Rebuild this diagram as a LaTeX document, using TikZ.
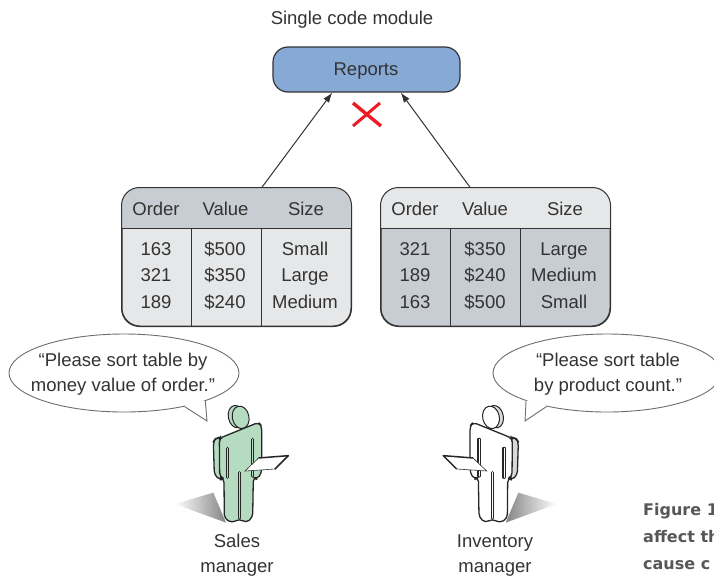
\documentclass[tikz,border=0pt]{standalone}
\usepackage{fontspec}
\setmainfont{Liberation Sans}
\newfontfamily\capfont{DejaVu Sans}
\usetikzlibrary{shapes.geometric,arrows.meta}
\definecolor{txt}{HTML}{333333}
\definecolor{bluebox}{HTML}{87A9D6}
\definecolor{cdark}{HTML}{C8CDD3}
\definecolor{clight}{HTML}{E6E7E8}
\definecolor{cgreen}{HTML}{B5DCC0}
\definecolor{line}{HTML}{333333}
\definecolor{bubline}{HTML}{6E6E6E}
\definecolor{xred}{HTML}{ED1C24}
\tikzset{
  lab/.style={text=txt,font=\fontsize{18.5}{22}\selectfont,inner sep=0pt,align=center},
  cell/.style={lab,anchor=base},
  tablebox/.style={draw=line,line width=1pt,minimum width=229pt,minimum height=138pt,rounded corners=18pt,inner sep=0pt},
  conn/.style={draw=line,line width=1pt,-{Latex[length=10pt,width=7pt]}},
  bubble/.style={ellipse,draw=bubline,line width=.9pt,fill=white,inner sep=0pt},
  capt/.style={text=black!66,font=\capfont\bfseries\fontsize{16}{20}\selectfont,inner sep=0pt,anchor=base west},
  sep/.style={draw=line,line width=1pt},
  outl/.style={draw=black!85,line width=1.3pt,rounded corners=4pt,line join=round}
}
\newcommand{\personfig}[4]{%
  % #1 body colour, #2 side colour, #3,#4 shadow left/right colours
  \shade[left color=#3,right color=#4] (15,342) -- (130,308) -- (168,398) -- cycle;
  \filldraw[outl,fill=#2] (152,140) -- (136,146) -- (130,155) -- (133,255) -- (150,270) -- (162,266) -- (150,150) -- cycle;
  \filldraw[draw=black!85,line width=1pt,fill=#2,rotate around={12:(199,80)}] (199,80) ellipse (24 and 34);
  \filldraw[draw=black!85,line width=1pt,fill=#1,rotate around={12:(212,82)}] (212,82) ellipse (25 and 34);
  \filldraw[outl,fill=#1] (148,145) -- (266,97) -- (275,108) -- (275,248) -- (262,268) -- (250,262)
     -- (248,382) -- (228,399) -- (209,386) -- (186,399) -- (163,385) -- (162,266) -- (149,260) -- cycle;
  \foreach \a/\b/\c/\d in {173/175/173/262, 248/148/248/258, 208/248/208/384}{
    \draw[black!85,line width=3.2pt,line cap=round] (\a,\b) -- (\c,\d);
    \draw[#1,line width=1pt,line cap=round] (\a,\b) -- (\c,\d);
  }
  \fill[white] (225,243) -- (265,205) -- (355,197) -- (315,237) -- cycle;
  \draw[line,line width=.6pt] (265,205) -- (225,243) -- (315,237);
  \draw[black!85,line width=1.5pt,line join=round] (265,204) -- (355,197) -- (315,237);
}
\begin{document}
\begin{tikzpicture}[x=1pt,y=-1pt]
\useasboundingbox (0,0) rectangle (714,576);
\clip (0,0) rectangle (714,576);
\fill[white] (0,0) rectangle (714,576);

% title and reports box
\node[cell] (title) at (352,24.5) {Single code module};
\node[draw=line,line width=1.2pt,fill=bluebox,rounded corners=15pt,minimum width=187pt,minimum height=45pt,inner sep=0pt] (reports) at (366.5,69.5) {};
\node[cell] (reportst) at (366,75.5) {Reports};

% red cross
\coordinate (xa) at (353,103);
\coordinate (xb) at (381,126);
\coordinate (xc) at (380,103);
\coordinate (xd) at (353,126);
\draw[xred,line width=3.4pt] (xa) -- (xb);
\draw[xred,line width=3pt] (xc) -- (xd);

% left table
\node[tablebox,fill=clight] (tl) at (236.5,257) {};
\fill[cdark,rounded corners=18pt] (tl.north west) -- (tl.north east) [sharp corners] -- (351,228) -- (122,228) [rounded corners=18pt] -- cycle;
\fill[cdark] (122,206) rectangle (351,228);
\draw[sep] (122,228) -- (351,228);
\draw[sep] (191,228) -- (191,326);
\draw[sep] (261,228) -- (261,326);
\draw[draw=line,line width=1pt,rounded corners=18pt] (tl.north west) rectangle (tl.south east);

% right table
\node[tablebox,fill=cdark] (tr) at (495.5,257) {};
\fill[clight,rounded corners=18pt] (tr.north west) -- (tr.north east) [sharp corners] -- (610,228) -- (381,228) [rounded corners=18pt] -- cycle;
\fill[clight] (381,206) rectangle (610,228);
\draw[sep] (381,228) -- (610,228);
\draw[sep] (450,228) -- (450,326);
\draw[sep] (520,228) -- (520,326);
\draw[draw=line,line width=1pt,rounded corners=18pt] (tr.north west) rectangle (tr.south east);

% table texts
\foreach \n/\x/\y/\t in {a1/156/215.5/Order,a2/225.5/215.5/Value,a3/306/215.5/Size,
  a4/156/255/163,a5/225/255/\$500,a6/305/255/Small,
  a7/156/281.5/321,a8/225/281.5/\$350,a9/305/281.5/Large,
  a10/156/308/189,a11/225/308/\$240,a12/305/308/Medium,
  b1/415/215.5/Order,b2/485/215.5/Value,b3/565/215.5/Size,
  b4/415/255/321,b5/485/255/\$350,b6/564/255/Large,
  b7/415/281.5/189,b8/485/281.5/\$240,b9/564/281.5/Medium,
  b10/415/308/163,b11/485/308/\$500,b12/564/308/Small}
  {\node[cell] (\n) at (\x,\y) {\t};}

% connectors
\draw[conn] (tl.70.3) -- (reports.214);
\draw[conn] (tr.110.3) -- (reports.326);

% speech bubbles
\node[bubble,minimum width=230pt,minimum height=78pt] (bl) at (124,373) {};
\coordinate (tipl) at (207,421);
\fill[white] (bl.-29) -- (tipl) -- (bl.-19) -- ([shift={(-4,-6)}]bl.-24) -- cycle;
\draw[bubline,line width=.9pt,line join=miter] (bl.-29) -- (tipl) -- (bl.-19);
\node[lab] (blt) at (123,374.5) {“Please sort table by\\[3pt]money value of order.”};

\node[bubble,minimum width=228pt,minimum height=78pt] (br) at (607,373) {};
\coordinate (tipr) at (525,421);
\fill[white] (br.209) -- (tipr) -- (br.199) -- ([shift={(4,-6)}]br.204) -- cycle;
\draw[bubline,line width=.9pt,line join=miter] (br.209) -- (tipr) -- (br.199);
\node[lab] (brt) at (608,374.5) {“Please sort table\\[3pt]by product count.”};

% persons
\begin{scope}[shift={(170,390)},x=0.3333pt,y=-0.3333pt]
  \personfig{cgreen}{cgreen}{white}{black!48}
\end{scope}
\begin{scope}[shift={(561.67,390)},x=-0.3333pt,y=-0.3333pt]
  \personfig{white}{black!15}{black!48}{white}
\end{scope}

% person labels
\node[lab] (ls) at (237,555.5) {Sales\\[3pt]manager};
\node[lab] (li) at (495,555.5) {Inventory\\[3pt]manager};

% caption fragments
\node[capt] (c1) at (643,515) {Figure 1};
\node[capt] (c2) at (643,542) {affect th};
\node[capt] (c3) at (643,569) {cause c};
\end{tikzpicture}
\end{document}
